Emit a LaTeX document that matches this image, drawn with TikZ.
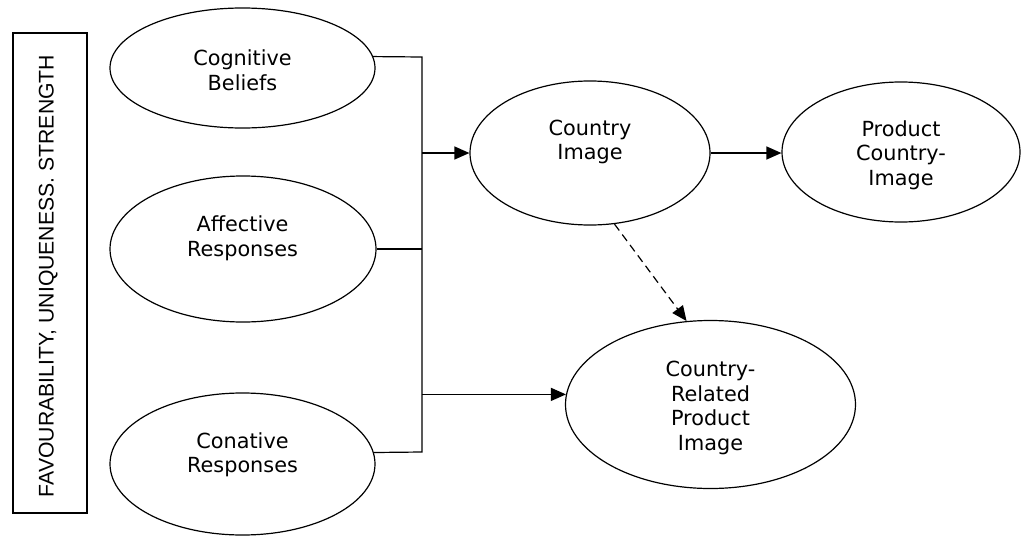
\documentclass[tikz,border=0pt]{standalone}
\usepackage{fontspec}
\setmainfont{DejaVu Sans}
\newfontfamily\sidefont{Liberation Sans}
\usetikzlibrary{arrows.meta,shapes.geometric}

\tikzset{
  oval/.style={draw, ellipse, line width=1.2pt, inner sep=0pt},
  lbl/.style={align=center, inner sep=0pt, font=\fontsize{20.8}{24.5}\selectfont},
  wire/.style={line width=1.2pt},
  flow/.style={line width=1.2pt, -{Triangle[length=15pt,width=13pt]}},
  hint/.style={flow, dash pattern=on 8pt off 5pt}
}

\begin{document}
\begin{tikzpicture}[x=1pt, y=1pt]
  \useasboundingbox (0,0) rectangle (1021,-536);

  % side bar with the rotated caption
  \node[draw, line width=1.2pt, minimum width=74pt, minimum height=480pt, inner sep=0pt]
    (side) at (50,-273) {};
  \node[rotate=90, inner sep=0pt, text height=15pt, text depth=0pt,
        font=\sidefont\fontsize{21.2}{24}\selectfont]
    (sideT) at (46,-276) {FAVOURABILITY, UNIQUENESS. STRENGTH};

  % the three image components
  \node[oval, minimum width=265pt, minimum height=120pt] (cog) at (242.5,-68) {};
  \node[lbl] (cogT) at (242.5,-70) {Cognitive\\Beliefs};

  \node[oval, minimum width=266pt, minimum height=146pt] (aff) at (243,-249) {};
  \node[lbl] (affT) at (242.5,-238.5) {Affective\\Responses};

  \node[oval, minimum width=265pt, minimum height=142pt] (con) at (242.5,-464) {};
  \node[lbl] (conT) at (242.5,-455) {Conative\\Responses};

  % resulting images
  \node[oval, minimum width=240pt, minimum height=144pt] (ci) at (590,-153) {};
  \node[lbl] (ciT) at (590,-142) {Country\\Image};

  \node[oval, minimum width=238pt, minimum height=140pt] (pci) at (901,-152) {};
  \node[lbl] (pciT) at (901,-155) {Product\\Country-\\Image};

  \node[oval, minimum width=290pt, minimum height=168pt] (crp) at (710.5,-404.5) {};
  \node[lbl] (crpT) at (710.5,-408) {Country-\\Related\\Product\\Image};

  % collecting bus
  \coordinate (busT) at (422,-57);
  \coordinate (busB) at (422,-452);

  \draw[wire] (cog.5) -- (busT) -- (busB) -- (con.5);
  \draw[wire] (aff.east) -- (aff.east -| busT);

  \draw[flow] (ci.west -| busT) -- (ci.west);
  \draw[flow] (crp.176 -| busT) -- (crp.176);
  \draw[flow] (ci.east) -- (ci.east -| pci.west);
  \draw[hint] (ci.-71) -- (crp.106);
\end{tikzpicture}
\end{document}
